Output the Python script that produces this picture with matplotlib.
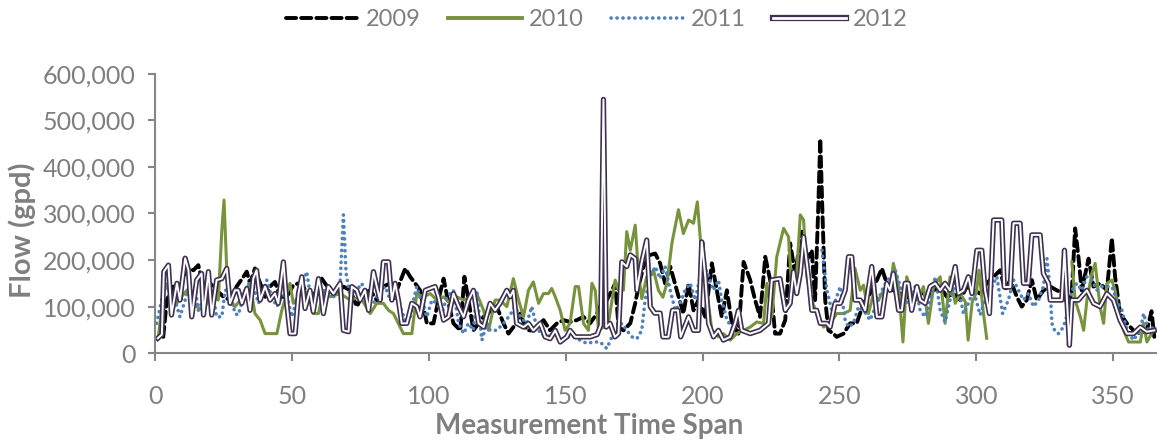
import matplotlib
matplotlib.use('Agg')
import matplotlib.pyplot as plt
from matplotlib.lines import Line2D
from matplotlib.ticker import FuncFormatter, MultipleLocator
import numpy as np

plt.rcParams['font.family'] = ['Lato', 'DejaVu Sans']

# flows, in thousand gpd (nan = no data)
days_2009 = [3, 4.3, 6.7, 9.1, 11.6, 14, 15.8, 17.7, 20.1, 22.5, 25, 27.4, 29.8, 32.3, 33.5, 34.7, 36.5, 38.4,
             40.2, 42, 43.8, 45.7, 48.1, 50.5, 52.4, 54.2, 56.6, 59.1, 60.9, 63.9, 66.4, 68.8, 71.3, 73.7, 76.1,
             78.6, 81, 83.4, 85.9, 88.3, 91.4, 93.2, 95, 96.8, 99.3, 101.7, 103.5, 105.4, 107.2, 109, 111.5, 113,
             114.5, 116.3, 118.2, 120, 122.4, 124.8, 127.3, 129.1, 130.9, 133.4, 135.8, 138.2, 141.9, 144.3, 146.8,
             149.2, 151.6, 154.1, 156.5, 158.9, 161.4, 163.2, 165, 166.9, 168.1, 169.3, 171.1, 173.6, 175.4, 176.6,
             178.4, 180.9, 182.7, 184.5, 186.3, 188.2, 190.6, 193, 194.9, 196.7, 198.5, 201, 203.4, 205.2, 207,
             208.9, 210.7, 213.1, 215, 217.4, 219.2, 221, 222.9, 224.7, 226.5, 228.3, 230.2, 232, 233.8, 236.3,
             238.1, 239.9, 241.1, 242.2, 243, 243.8, 244.8, 246, 247.8, 249, 251.5, 253.9, 256.3, 258.8, 261.2,
             263.7, 265.5, 267.3, 269.7, 272.2, 274.6, 277, 279.5, 281.9, 284.4, 286.8, 289.2, 291.7, 294.1, 296.5,
             299, 301.4, 303.8, 306.3, 308.7, 310.5, 312.4, 314.8, 316.6, 318.4, 320.3, 322.1, 324.5, 327, 329.4,
             331.8, 333.7, 334.9, 336.1, 337.3, 338.5, 341, 342.8, 345.2, 347.7, 349.5, 350.7, 352.5, 355, 357.4,
             359.9, 362.3, 364, 365]
flow_2009 = [35, 114, 143, 135, 186, 178, 189, 143, 150, 135, 121, 114, 143, 164, 175, 150, 182, 150,
             121, 143, 153, 121, 121, 146, 150, 143, 114, 135, 160, 135, 128, 143, 135, 100, 128,
             135, 114, 143, 150, 135, 182, 164, 150, 135, 64, 64, 114, 160, 107, 64, 49, 164,
             114, 49, 64, 78, 90, 100, 64, 42, 56, 85, 49, 49, 71, 49, 64,
             71, 67, 71, 78, 64, 85, 107, 114, 135, 150, 56, 49, 64, 107, 143,
             186, 211, 214, 193, 150, 186, 135, 85, 150, 92, 114, 78, 193, 135, 78,
             135, 64, 42, 196, 157, 114, 78, 207, 157, 42, 42, 71, 236, 171, 261,
             200, 221, 114, 300, 460, 300, 114, 49, 42, 35, 42, 64, 64, 107, 128,
             157, 182, 150, 135, 128, 121, 114, 135, 121, 135, 143, 121, 128, 114, 143,
             135, 128, 150, 164, 178, 135, 157, 121, 100, 114, 157, 114, 135, 143, 135,
             128, 100, 135, 268, 207, 135, 203, 143, 150, 135, 247, 164, 85, 64, 49,
             42, 49, 90, 35]

days_2010 = [1.2, 3.6, 5.5, 7.9, 9.7, 11.6, 13.4, 15.2, 17.7, 19.5, 21.3, 23.1, 24.4, 25.2, 26.2, 27.4, 29.2,
             31.1, 32.9, 34.7, 36.5, 38.4, 40.2, 44.5, 46.3, 48.1, 49.3, 50.5, 52.4, 54.2, 56, 57.8, 59.7, 61.5,
             64, 67.6, 71.3, 74.9, 78.6, 81, 83.4, 85.3, 87.1, 90.7, 93.8, 95.6, 98.1, 100.5, 103, 105.4, 107.8,
             110.2, 112.7, 115.1, 117.5, 120, 121.8, 122.4, 124.2, 126, 128.5, 130.9, 132.8, 134.6, 136.4, 138.2,
             140.1, 141.9, 143.7, 144.9, 146.2, 148, 149.8, 151.6, 153.5, 154.7, 156.5, 158.3, 159.6, 160.8, 162,
             163.8, 165.6, 168.1, 169.3, 171.1, 172.3, 173.6, 175.4, 176.6, 177.8, 179.6, 182.1, 183.9, 185.5,
             187, 188.8, 190, 191.2, 193, 194.9, 196.7, 198.1, 199.7, 201.5, 203.4, 205.8, 207.6, 210.1, 212.5,
             214.9, 217.4, 219.8, 222.3, 223.5, 225.3, 227.1, 229.6, 231.4, 232.6, 234.4, 235.7, 236.9, 238.1,
             239.9, 241.7, 244.2, 246.6, 249, 251.5, 253.9, 255.7, 257.6, 258.8, 260.6, 262.4, 264.3, 266.1,
             268.5, 269.7, 271.6, 273.2, 274.6, 276.4, 278.3, 280.7, 282.5, 284.4, 286.8, 288.6, 290.4, 292.3,
             294.1, 296, 297, 298.5, 300, 301, 302.5, 303.8, 320, 334.9, 336.1, 338, 339.2, 340.4, 342.2, 343.4,
             345.2, 346.5, 347.7, 349.5, 350.7, 352, 353.8, 355.6, 357.4, 359.9, 361.1, 362.3, 364.7]
flow_2010 = [35, 150, 128, 107, 121, 135, 114, 100, 92, 114, 121, 114, 264, 329, 178, 107, 100,
             114, 135, 150, 85, 71, 42, 42, 92, 128, 150, 107, 121, 135, 128, 85, 85, 135,
             121, 128, 114, 121, 85, 107, 107, 92, 85, 42, 42, 128, 121, 128, 114, 121, 107,
             121, 114, 121, 128, 92, 49, 64, 114, 114, 100, 160, 114, 78, 135, 153,
             107, 128, 128, 139, 121, 92, 49, 64, 143, 143, 64, 49, 150, 135, 49,
             56, 64, 157, 135, 135, 261, 221, 275, 171, 117, 164, 178, 135, 120,
             150, 236, 272, 308, 257, 286, 279, 325, 207, 135, 49, 35, 42, 28, 42,
             49, 56, 67, 64, 150, 78, 207, 268, 250, 135, 171, 297, 286, 164,
             114, 85, 56, 64, 85, 85, 92, 182, 135, 146, 85, 128, 114, 135,
             135, 193, 143, 24, 164, 128, 114, 143, 64, 143, 164, 64, 164, 107,
             128, 110, 28, 110, 130, 178, 90, 32, np.nan, 196, 114, 78, 49, 114, 171, 193,
             100, 64, 150, 157, 135, 85, 49, 24, 24, 24, 64, 24, 49]

days_2011 = [0.6, 2.4, 3.6, 5.5, 7.3, 9.1, 11, 12.8, 14.6, 15.8, 17.7, 19.5, 21.3, 22.5, 24.4, 25.6, 27.4,
             29.2, 30.4, 32.3, 34.1, 35.9, 37.8, 39.6, 40.8, 42.6, 44.5, 46.3, 48.1, 49.9, 51.8, 53.6, 55.4,
             56.6, 57.8, 59.7, 62.7, 65.2, 67.6, 68.8, 69.8, 71.3, 73.7, 75.5, 77.4, 79.8, 82.2, 84.1, 85.9,
             87.7, 89.5, 91.4, 93.2, 94.4, 95.6, 97.4, 99.3, 101.1, 103, 104.8, 106.6, 109, 110.9, 112.7, 114.5,
             116.3, 117.5, 119.4, 121.2, 122.4, 124.8, 127.3, 129.7, 131.5, 133.4, 135.8, 137.6, 138.8, 140.7,
             143.1, 145.5, 148, 150.4, 152.9, 155.3, 157.7, 160.2, 162.6, 165, 166.9, 168.7, 170.5, 172.3, 174.2,
             176, 177.8, 179, 180.9, 182.7, 184.5, 186.3, 188.2, 190, 191.8, 193.6, 195.5, 197.3, 199.1, 201.5,
             204, 205.8, 207, 208.9, 210.7, 212.5, 228, 243.6, 245.4, 247.2, 249, 250.3, 252.1, 253.3, 255.1,
             257, 258.8, 261.2, 263.7, 266.1, 268.5, 270.4, 272.2, 274, 275.8, 277.7, 279.5, 281.3, 283.1, 285,
             286.8, 288.6, 290.4, 292.3, 294.1, 295.3, 297.1, 299, 301.4, 303.2, 305, 307.5, 309.6, 311.7, 313.6,
             315.4, 317.2, 319, 320.9, 322.7, 324.5, 325.8, 327, 327.6, 328.8, 330, 331.8, 333.7, 334.9, 336.7,
             338.5, 340.4, 342.2, 344, 345.9, 347.7, 349.5, 351.3, 353.2, 355, 357.4, 359.9, 361.1, 362.9, 365]
flow_2011 = [64, 114, 150, 135, 114, 78, 114, 150, 143, 92, 114, 135, 121, 78, 78, 135, 135,
             85, 82, 121, 150, 143, 107, 135, 157, 121, 100, 121, 128, 78, 114, 143, 175,
             128, 100, 128, 135, 121, 150, 297, 171, 121, 135, 150, 121, 107, 135, 143, 114,
             121, 100, 71, 78, 114, 143, 107, 78, 114, 107, 85, 121, 135, 64, 42, 64,
             49, 135, 28, 64, 49, 49, 64, 82, 100, 78, 64, 100, 71, 42,
             35, 42, 28, 35, 35, 28, 21, 24, 24, 10, 35, 49, 64, 49, 35,
             31, 49, 114, 164, 186, 160, 186, 135, 92, 107, 135, 150, 114, 164, 178,
             135, 157, 114, 71, 56, 49, np.nan, 221, 135, 92, 121, 143, 71, 56, 64,
             100, 92, 71, 107, 143, 164, 178, 143, 107, 114, 143, 92, 78, 114, 164,
             92, 67, 114, 150, 121, 85, 107, 135, 82, 114, 135, 164, 85, 114, 157,
             135, 114, 128, 100, 114, 143, 203, 135, 64, 46, 42, 56, 92, 135, 150,
             135, 164, 157, 135, 143, 143, 143, 114, 92, 49, 28, 49, 85, 49, 56]

days_2012 = [1, 2.5, 3.2, 4.9, 6, 8, 9.1, 11, 12.2, 13.4, 15.2, 17, 17.7, 19.5, 20.7, 22.5, 24.4, 26.2, 27.4,
             29.2, 30.4, 31.7, 33.5, 34.7, 35.9, 37.1, 38.4, 40.2, 42, 43.8, 45, 46.9, 48.1, 49.3, 51.2, 52.4,
             53.6, 54.8, 56.6, 57.8, 59.7, 60.5, 61.5, 63.3, 65.2, 67.6, 68.8, 70.7, 71.9, 73.7, 74.9, 76.7, 78,
             79.8, 81, 82.2, 83.4, 85.3, 86.5, 87.7, 88.9, 90.1, 92, 93.8, 95.6, 96.8, 98.7, 102.3, 103.5, 105.4,
             107.2, 109, 110.9, 112.7, 114.5, 116.3, 118.2, 120, 122.4, 124.2, 126, 128.5, 129.7, 130.9, 132.1,
             134.6, 136.4, 138.2, 140.7, 142.5, 144.3, 146.2, 148, 150.4, 151.6, 153.5, 156.5, 159, 161.5, 162.8,
             163.8, 164.8, 166.2, 168, 169.3, 170.5, 172.3, 173.6, 175.4, 176, 177.8, 179.6, 180.9, 182.5, 184.5,
             185.5, 187.5, 189, 191, 192, 194.9, 196.7, 198.5, 199.7, 201, 202.2, 204, 205.8, 207.6, 210.1, 211.9,
             213.1, 214.3, 217.4, 221, 224.1, 225.3, 228.3, 230.2, 232, 233.2, 234.4, 235.7, 236.9, 238.7, 239.9,
             241.7, 243, 245.4, 246.6, 248.4, 250.3, 252.1, 253.3, 254.5, 255.7, 257.6, 259.4, 261.8, 263.7,
             265.5, 267.3, 268.5, 269.7, 271.6, 272.8, 274, 275.2, 276.4, 278.3, 279.5, 281.3, 283.1, 285,
             286.8, 288.6, 290.4, 292.3, 293.5, 295.3, 297.1, 298.4, 300.2, 302, 303.2, 304.8, 306.3, 309.3,
             310.2, 312.4, 313.6, 316, 317.2, 319, 320.3, 323.3, 324.5, 326.4, 327, 331.2, 332.2, 333.1, 334,
             334.9, 337.3, 340.4, 342.8, 345.2, 347.7, 350.1, 352.5, 355, 357.4, 359.9, 362.3, 365]
flow_2012 = [32, 40, 175, 189, 82, 150, 114, 204, 178, 78, 157, 171, 82, 175, 82, 157, 160, 182, 107,
             135, 135, 107, 139, 92, 160, 178, 114, 143, 114, 128, 107, 196, 107, 42, 42, 128,
             164, 96, 135, 89, 160, 135, 85, 143, 128, 150, 49, 46, 143, 135, 114, 135, 92,
             175, 143, 114, 196, 196, 114, 150, 114, 64, 64, 107, 100, 78, 135, 143, 121, 71,
             78, 128, 100, 78, 114, 135, 64, 56, 107, 92, 107, 135, 121, 135, 64,
             56, 64, 49, 64, 35, 31, 49, 24, 35, 49, 35, 35, 35, 40, 60,
             545, 56, 64, 35, 42, 196, 186, 211, 203, 135, 196, 243, 100, 86, 86,
             35, 35, 92, 92, 35, 78, 49, 49, 239, 164, 64, 35, 49, 28, 35, 64,
             92, 49, 42, 49, 64, 157, 160, 92, 107, 175, 128, 171, 250, 164, 92,
             92, 64, 64, 56, 107, 107, 135, 207, 207, 114, 114, 92, 186, 78,
             78, 150, 135, 171, 92, 92, 150, 150, 92, 143, 114, 107, 143, 150,
             135, 150, 135, 186, 128, 135, 164, 128, 221, 221, 135, 85, 286, 286,
             142, 142, 279, 279, 150, 150, 254, 254, 171, 150, 114, 114, 221, 114, 17,
             114, 114, 135, 107, 100, 128, 114, 71, 42, 42, 56, 46, 49]

years = ['2009', '2010', '2011', '2012']
gray = '#7f7f7f'
c2010 = '#77933C'
c2011 = '#4F81BD'
c2012 = '#3F3151'

fig = plt.figure(figsize=(11.57, 4.42), dpi=100)
ax = fig.add_axes([0.134, 0.201, 0.866, 0.632])

ax.plot(days_2009, np.array(flow_2009) * 1000, color='black', lw=2.8, ls=(0, (2.6, 1.3)),
        dash_capstyle='round')
ax.plot(days_2010, np.array(flow_2010) * 1000, color=c2010, lw=2.2)
ax.plot(days_2011, np.array(flow_2011) * 1000, color=c2011, lw=2.6, ls=(0, (0.05, 1.6)),
        dash_capstyle='round')
ax.plot(days_2012, np.array(flow_2012) * 1000, color=c2012, lw=3.8, solid_joinstyle='round')
ax.plot(days_2012, np.array(flow_2012) * 1000, color='white', lw=1.4, solid_joinstyle='round')

ax.set_xlim(0, 366)
ax.set_ylim(0, 600000)
ax.xaxis.set_major_locator(MultipleLocator(50))
ax.yaxis.set_major_locator(MultipleLocator(100000))
ax.yaxis.set_major_formatter(FuncFormatter(lambda v, p: '{:,.0f}'.format(v)))

for s in ['top', 'right']:
    ax.spines[s].set_visible(False)
for s in ['left', 'bottom']:
    ax.spines[s].set_color('#868686')
    ax.spines[s].set_linewidth(1.5)
ax.tick_params(axis='x', colors='#868686', labelcolor=gray, labelsize=18, length=6, width=1.5, pad=17)
ax.tick_params(axis='y', colors='#868686', labelcolor=gray, labelsize=18, length=5, width=1.5, pad=9)

fig.text(0.019, 0.48, 'Flow (gpd)', rotation=90, ha='center', va='center',
         fontsize=21, fontweight='bold', color=gray)
fig.text(0.509, 0.036, 'Measurement Time Span', ha='center', va='center',
         fontsize=20, fontweight='bold', color=gray)

h = [Line2D([], [], color='black', lw=2.8, ls=(0, (2.6, 1.3)), dash_capstyle='round'),
     Line2D([], [], color=c2010, lw=2.8),
     Line2D([], [], color=c2011, lw=2.6, ls=(0, (0.05, 1.6)), dash_capstyle='round'),
     (Line2D([], [], color=c2012, lw=4.5), Line2D([], [], color='white', lw=2))]
leg = fig.legend(h, years, loc='center', bbox_to_anchor=(0.516, 0.955), ncol=4, frameon=False,
                 fontsize=17, handlelength=3.1, handletextpad=0.3, columnspacing=1.15)
for t in leg.get_texts():
    t.set_color(gray)

fig.savefig('out.png', dpi=100)
